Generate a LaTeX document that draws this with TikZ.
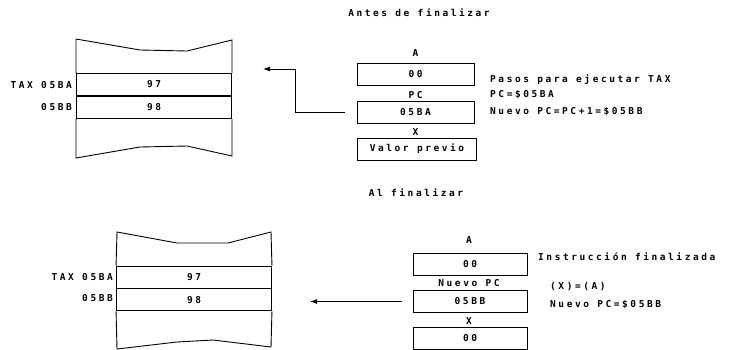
\documentclass[tikz,border=0pt]{standalone}
\usepackage{fontspec}
\newfontfamily\dotfont{DejaVu Sans Mono}[LetterSpace=27]
\usetikzlibrary{positioning,arrows.meta}

\begin{document}
\begin{tikzpicture}[
  x=1pt, y=-1pt,
  font=\dotfont\bfseries\fontsize{9.5}{11}\selectfont,
  cell/.style={rectangle, draw, line width=0.9pt, minimum width=155pt, minimum height=22pt, inner sep=0pt},
  reg/.style={rectangle, draw, line width=0.9pt, minimum width=117pt, minimum height=22pt, inner sep=0pt},
  addr/.style={anchor=east, inner sep=0pt},
  txt/.style={anchor=west, inner sep=0pt},
  edgeline/.style={line width=0.9pt},
  arr/.style={-{Latex[length=7pt,width=5pt]}, line width=0.9pt},
]
  \useasboundingbox (0,0) rectangle (733,349);

  % Antes de finalizar
  \node (title1) at (419,13) {Antes de finalizar};

  % memory block
  \node[cell] (mem1a) at (154,84.5) {97};
  \node[cell, below=0pt of mem1a] (mem1b) {98};
  \draw[edgeline] (mem1a.north west) -- (76,39) -- (140,50) -- (187,51) -- (232,40) -- (mem1a.north east);
  \draw[edgeline] (mem1b.south west) -- (76,158) -- (140,147) -- (187,146) -- (232,156) -- (mem1b.south east);
  \node[addr] (adr1a) at (72,85) {TAX 05BA};
  \node[addr] (adr1b) at (72,107) {05BB};

  % registers
  \node[reg] (regA1) at (415.5,74) {00};
  \node[reg] (regPC1) at (415.5,112.5) {05BA};
  \node[reg, minimum width=119pt] (regX1) at (417,149) {Valor previo};
  \node (labA1) at (415.5,53) {A};
  \node (labPC1) at (415.5,95) {PC};
  \node (labX1) at (415.5,132) {X};

  \node[txt] (step1) at (490,80) {Pasos para ejecutar TAX};
  \node[txt] (step2) at (490,95) {PC=\$05BA};
  \node[txt] (step3) at (490,112) {Nuevo PC=PC+1=\$05BB};

  \coordinate (tip1) at (263,69);
  \draw[arr] ([xshift=-12pt]regPC1.west) -- ++(-49,0) |- (tip1);

  % Al finalizar
  \node (title2) at (416,193) {Al finalizar};

  \node[cell] (mem2a) at (194,277) {97};
  \node[cell, below=0pt of mem2a] (mem2b) {98};
  \draw[edgeline] (mem2a.north west) -- (117,232) -- (177,243) -- (228,243) -- (271,232) -- (mem2a.north east);
  \draw[edgeline] (mem2b.south west) -- (117,349) -- (177,342) -- (213,340) -- (271,347) -- (mem2b.south east);
  \node[addr] (adr2a) at (113,277) {TAX 05BA};
  \node[addr] (adr2b) at (113,298) {05BB};

  \node[reg, minimum width=114pt] (regA2) at (470,264) {00};
  \node[reg, minimum width=114pt] (regPC2) at (470,301.5) {05BB};
  \node[reg, minimum width=114pt] (regX2) at (470,338.5) {00};
  \node (labA2) at (469,240) {A};
  \node (labPC2) at (469,283) {Nuevo PC};
  \node (labX2) at (469,321) {X};

  \node[txt] (fin1) at (538,257) {Instrucción finalizada};
  \node[txt] (fin2) at (550,287) {(X)=(A)};
  \node[txt] (fin3) at (550,305) {Nuevo PC=\$05BB};

  \coordinate (tip2) at (310,301.5);
  \draw[arr] ([xshift=-11pt]regPC2.west) -- (tip2);
\end{tikzpicture}
\end{document}
